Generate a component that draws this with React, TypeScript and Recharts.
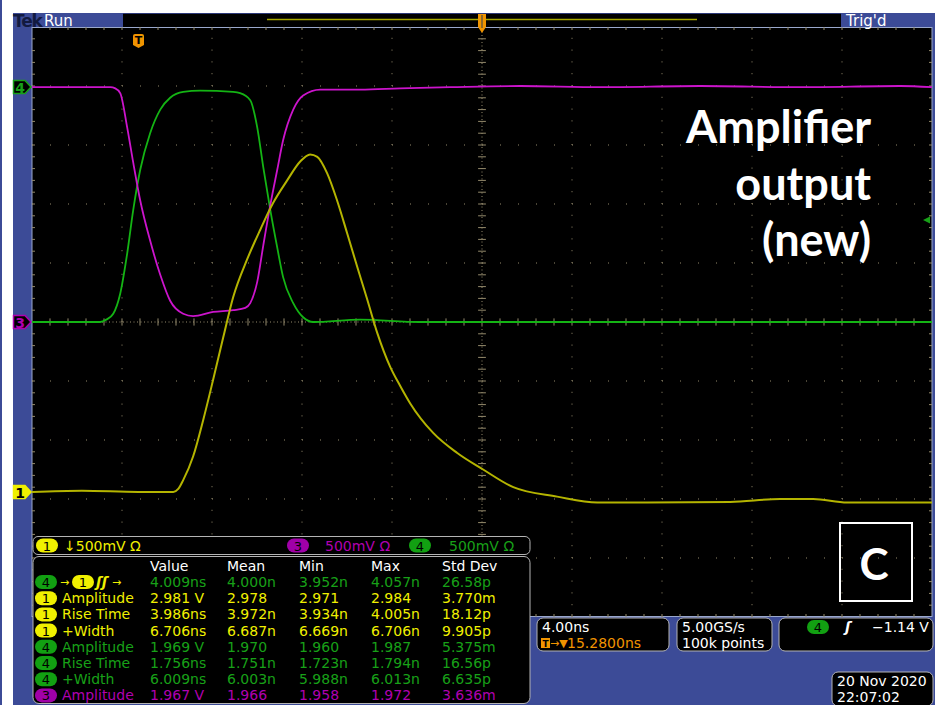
import { LineChart, Line, XAxis, YAxis, ReferenceLine } from "recharts";

// horizontal: 4 ns/div, trigger at t=0, horizontal position 15.28 ns
const T_LEFT = -4.72;
const T_RIGHT = 35.28;
const T_CENTER = 15.28;
const NS_PER_DIV = 4;
const VOLTS_PER_DIV = 0.5;

// channel ground markers, in divisions from screen centre
const CH1_OFFSET = -2.88;
const CH3_OFFSET = 0;
const CH4_OFFSET = 3.98;

// ch1 (yellow) - amplifier output
const ch1Time = [-4.72, -2.5, 0, 1.56, 1.78, 2.0, 2.44, 2.89, 3.33, 3.78, 4.22, 4.84, 5.42, 6.0, 6.62, 7.2, 7.64, 7.96, 8.4, 8.84, 9.29, 9.73, 10.18, 10.62, 11.2, 11.64, 12.09, 13.11, 14.18, 15.33, 16.67, 18.62, 20.4, 22.62, 26.31, 28.53, 30.0, 31.51, 33.56, 35.28];
const ch1Volts = [0, 0.01, 0, 0, 0.025, 0.1, 0.3, 0.61, 0.95, 1.31, 1.65, 1.97, 2.22, 2.45, 2.64, 2.8, 2.86, 2.84, 2.7, 2.47, 2.19, 1.91, 1.63, 1.35, 1.06, 0.9, 0.75, 0.5, 0.33, 0.19, 0.04, -0.04, -0.09, -0.09, -0.085, -0.06, -0.06, -0.09, -0.09, -0.09];

// ch3 (magenta)
const ch3Time = [-4.72, -1.24, -1.02, -0.8, -0.49, -0.22, 0.09, 0.53, 0.98, 1.42, 2.0, 2.44, 3.33, 4.22, 4.76, 4.98, 5.29, 5.56, 5.87, 6.18, 6.44, 6.89, 7.33, 8.09, 9.87, 11.64, 13.87, 16.98, 20.53, 24.98, 29.42, 33.87, 35.28];
const ch3Volts = [1.99, 1.99, 1.98, 1.94, 1.65, 1.35, 1.03, 0.69, 0.4, 0.18, 0.07, 0.05, 0.085, 0.1, 0.12, 0.16, 0.34, 0.65, 0.99, 1.29, 1.54, 1.8, 1.92, 1.97, 1.97, 1.98, 1.99, 2.0, 1.99, 2.0, 1.99, 2.0, 1.99];

// ch4 (green)
const ch4Time = [-4.72, -1.69, -1.42, -1.11, -0.8, -0.49, -0.22, 0.09, 0.53, 0.98, 1.42, 2.0, 2.76, 4.22, 4.53, 4.98, 5.29, 5.56, 5.87, 6.18, 6.44, 6.89, 7.33, 7.78, 9.87, 12.53, 16.09, 20.53, 24.98, 29.42, 35.28];
const ch4Volts = [-1.99, -1.99, -1.97, -1.92, -1.75, -1.41, -1.04, -0.7, -0.39, -0.19, -0.09, -0.04, -0.03, -0.04, -0.05, -0.11, -0.34, -0.68, -1.04, -1.36, -1.61, -1.83, -1.95, -1.99, -1.97, -1.99, -1.99, -1.99, -1.99, -1.99, -1.99];

// measurement table
const measHeader = ["Value", "Mean", "Min", "Max", "Std Dev"];
const measChannel = [4, 1, 1, 1, 4, 4, 4, 3];
const measLabel = ["", "Amplitude", "Rise Time", "+Width", "Amplitude", "Rise Time", "+Width", "Amplitude"];
const measValue = ["4.009ns", "2.981 V", "3.986ns", "6.706ns", "1.969 V", "1.756ns", "6.009ns", "1.967 V"];
const measMean = ["4.000n", "2.978", "3.972n", "6.687n", "1.970", "1.751n", "6.003n", "1.966"];
const measMin = ["3.952n", "2.971", "3.934n", "6.669n", "1.960", "1.723n", "5.988n", "1.958"];
const measMax = ["4.057n", "2.984", "4.005n", "6.706n", "1.987", "1.794n", "6.013n", "1.972"];
const measStd = ["26.58p", "3.770m", "18.12p", "9.905p", "5.375m", "16.56p", "6.635p", "3.636m"];

const toDiv = (v: number, offset: number) => offset + v / VOLTS_PER_DIV;
const ch1Data = ch1Time.map((t, i) => ({ t, y: toDiv(ch1Volts[i], CH1_OFFSET) }));
const ch3Data = ch3Time.map((t, i) => ({ t, y: toDiv(ch3Volts[i], CH3_OFFSET) }));
const ch4Data = ch4Time.map((t, i) => ({ t, y: toDiv(ch4Volts[i], CH4_OFFSET) }));

const majorT = Array.from({ length: 11 }, (_, i) => T_LEFT + i * NS_PER_DIV);
const minorT = Array.from({ length: 49 }, (_, i) => T_LEFT + (i + 1) * NS_PER_DIV / 5);
const majorY = Array.from({ length: 11 }, (_, i) => -5 + i);
const minorY = Array.from({ length: 49 }, (_, i) => -5 + (i + 1) * 0.2);

const BLUE = "#3c4b97";
const YEL = "#f0f000";
const GRN = "#18a018";
const MAG = "#b000b0";
const ORANGE = "#f09400";
const DOT = "#948a6c";
const FONT = "DejaVu Sans";

const chColor: Record<number, string> = { 1: YEL, 3: MAG, 4: GRN };
const pillFill: Record<number, string> = { 1: "#f0f000", 3: "#a000a8", 4: "#12a012" };

const Pill = ({ x, cy, ch }: { x: number; cy: number; ch: number }) => (
  <g>
    <rect x={x} y={cy - 7} width={22} height={14} rx={7} fill={pillFill[ch]} />
    <text x={x + 11} y={cy + 0.5} textAnchor="middle" dominantBaseline="central" fontSize={13} fontFamily={FONT} fill="#000">
      {ch}
    </text>
  </g>
);

const Marker = ({ cy, ch, filled }: { cy: number; ch: number; filled?: boolean }) => (
  <g>
    <polygon
      points={`13.5,${cy - 6.5} 25,${cy - 6.5} 31,${cy} 25,${cy + 6.5} 13.5,${cy + 6.5}`}
      fill={filled ? chColor[ch] : "#000"}
      stroke={chColor[ch]}
      strokeWidth={1.5}
    />
    <text x={20} y={cy + 0.5} textAnchor="middle" dominantBaseline="central" fontSize={14} fontWeight="bold" fontFamily={FONT} fill={filled ? "#000" : chColor[ch]}>
      {ch}
    </text>
  </g>
);

const Overlay = () => {
  const cols = [150, 227, 299, 371, 442];
  const rowY = (i: number) => 582 + i * 16.2;
  return (
    <svg width={941} height={705} style={{ position: "absolute", left: 0, top: 0 }}>
      {/* header */}
      <rect x={13} y={13} width={110} height={14} fill={BLUE} />
      <text x={13} y={20.5} dominantBaseline="central" fontSize={17} fontWeight="bold" fontFamily={FONT} fill="#121a40" letterSpacing={-1.2}>
        Tek
      </text>
      <text x={44} y={20.5} dominantBaseline="central" fontSize={15} fontFamily={FONT} fill="#fff">
        Run
      </text>
      <rect x={123} y={13} width={718} height={14} fill="#000" />
      <line x1={123} y1={13.5} x2={841} y2={13.5} stroke="#2c3878" />
      <line x1={267} y1={19.5} x2={697} y2={19.5} stroke="#a8a800" strokeWidth={1.5} />
      <rect x={841} y={13} width={94} height={14} fill={BLUE} />
      <text x={846} y={20.5} dominantBaseline="central" fontSize={15} fontFamily={FONT} fill="#fff">
        Trig'd
      </text>
      <polygon points="478,14 486,14 486,27 482,33 478,27" fill={ORANGE} />
      <line x1={482} y1={15} x2={482} y2={28} stroke="#6a5a3a" strokeWidth={1.5} />

      {/* trigger point marker */}
      <path d="M133,36 Q133,34 135,34 L142,34 Q144,34 144,36 L144,45 L138.5,48 L133,45 Z" fill={ORANGE} />
      <text x={138.5} y={40.5} textAnchor="middle" dominantBaseline="central" fontSize={11} fontWeight="bold" fontFamily={FONT} fill="#000">
        T
      </text>

      {/* channel markers */}
      <Marker cy={87} ch={4} />
      <Marker cy={322} ch={3} />
      <Marker cy={492} ch={1} filled />
      <polygon points="923,220 930,216.5 930,223.5" fill={GRN} />

      {/* annotation */}
      <g fontFamily="Lato" fontWeight="bold" fontSize={45} fill="#fff" textAnchor="end">
        <text x={871} y={143}>Amplifier</text>
        <text x={871} y={200}>output</text>
        <text x={871} y={256}>(new)</text>
      </g>
      <rect x={840} y={523} width={72} height={78} fill="none" stroke="#fff" strokeWidth={2} />
      <text x={874} y={563} textAnchor="middle" dominantBaseline="central" fontFamily="Lato" fontWeight="bold" fontSize={44} fill="#fff">
        C
      </text>

      {/* channel status bar */}
      <rect x={33} y={536.5} width={497} height={18} rx={5} fill="#000" stroke="#b4b4b4" />
      <Pill x={36} cy={545.5} ch={1} />
      <text x={64} y={546} dominantBaseline="central" fontSize={14} fontFamily={FONT} fill={YEL}>
        ↓500mV Ω
      </text>
      <Pill x={287} cy={545.5} ch={3} />
      <text x={325} y={546} dominantBaseline="central" fontSize={14} fontFamily={FONT} fill={MAG}>
        500mV Ω
      </text>
      <Pill x={409} cy={545.5} ch={4} />
      <text x={449} y={546} dominantBaseline="central" fontSize={14} fontFamily={FONT} fill={GRN}>
        500mV Ω
      </text>

      {/* measurement table */}
      <rect x={33} y={556.5} width={497} height={147} rx={6} fill="#000" stroke="#b4b4b4" />
      <g fontSize={14} fontFamily={FONT} dominantBaseline="central">
        {measHeader.map((h, i) => (
          <text key={h} x={cols[i]} y={566} fill="#fff">
            {h}
          </text>
        ))}
        {measChannel.map((ch, i) => {
          const y = rowY(i);
          const c = i === 0 ? GRN : chColor[ch];
          return (
            <g key={i}>
              <Pill x={35} cy={y} ch={ch} />
              {i === 0 ? (
                <g>
                  <text x={60} y={y} fill={YEL} fontSize={11}>
                    →
                  </text>
                  <Pill x={72} cy={y} ch={1} />
                  <text x={96} y={y} fill={YEL} fontStyle="italic" fontWeight="bold">
                    ʃʃ
                  </text>
                  <text x={112} y={y} fill={YEL} fontSize={11}>
                    →
                  </text>
                </g>
              ) : (
                <text x={62} y={y} fill={c}>
                  {measLabel[i]}
                </text>
              )}
              {[measValue, measMean, measMin, measMax, measStd].map((col, j) => (
                <text key={j} x={cols[j]} y={y} fill={c}>
                  {col[i]}
                </text>
              ))}
            </g>
          );
        })}
      </g>

      {/* horizontal / acquisition / trigger boxes */}
      <g fontSize={14} fontFamily={FONT} dominantBaseline="central">
        <rect x={537} y={618} width={132} height={33} rx={6} fill="#000" stroke="#b4b4b4" />
        <text x={542} y={627} fill="#fff">4.00ns</text>
        <rect x={541} y={638} width={9} height={10} fill={ORANGE} />
        <text x={545.5} y={643.5} textAnchor="middle" fontSize={9} fontWeight="bold" fill="#000">T</text>
        <text x={550} y={643} fill={ORANGE} fontSize={11}>→▼</text>
        <text x={567} y={643} fill={ORANGE}>15.2800ns</text>

        <rect x={677} y={618} width={95} height={33} rx={6} fill="#000" stroke="#b4b4b4" />
        <text x={682} y={627} fill="#fff">5.00GS/s</text>
        <text x={682} y={643} fill="#fff">100k points</text>

        <rect x={779} y={618} width={154} height={33} rx={6} fill="#000" stroke="#b4b4b4" />
        <Pill x={807} cy={627} ch={4} />
        <text x={845} y={627} fill="#fff" fontStyle="italic" fontWeight="bold">ʃ</text>
        <text x={872} y={627} fill="#fff">−1.14 V</text>

        <rect x={832} y={672} width={101} height={34} rx={6} fill="#000" stroke="#b4b4b4" />
        <text x={837} y={681} fill="#fff">20 Nov 2020</text>
        <text x={837} y={697} fill="#fff">22:07:02</text>
      </g>
    </svg>
  );
};

export default function App() {
  const tickX = 3 / 22.5;
  const tickY = 3 / 59;
  return (
    <div style={{ position: "absolute", left: 0, top: 0, width: 941, height: 705, background: "#fff", overflow: "hidden" }}>
      <svg width={941} height={705} style={{ position: "absolute", left: 0, top: 0 }}>
        <rect x={0} y={0} width={2} height={705} fill={BLUE} />
        <rect x={13} y={13} width={922} height={692} fill={BLUE} />
        <rect x={32} y={27} width={900} height={590} fill="#000" />
        <rect x={32} y={27.5} width={900} height={589} fill="none" stroke="#9aa8cc" />
      </svg>
      <div style={{ position: "absolute", left: 0, top: 0 }}>
        <LineChart width={941} height={705} margin={{ top: 27, right: 9, bottom: 88, left: 32 }}>
          <XAxis type="number" dataKey="t" domain={[T_LEFT, T_RIGHT]} hide allowDataOverflow />
          <YAxis type="number" dataKey="y" domain={[-5, 5]} hide allowDataOverflow />
          {majorT.slice(1, 10).filter((_, i) => i !== 4).map((t) => (
            <ReferenceLine key={`vx${t}`} x={t} stroke={DOT} strokeDasharray="1 10.8" />
          ))}
          {majorY.slice(1, 10).filter((y) => y !== 0).map((y) => (
            <ReferenceLine key={`hy${y}`} y={y} stroke={DOT} strokeDasharray="1 17" />
          ))}
          <ReferenceLine x={T_CENTER} stroke={DOT} strokeDasharray="1 2.5" />
          <ReferenceLine y={0} stroke={DOT} strokeDasharray="1 2.5" />
          {minorT.map((t) => (
            <ReferenceLine key={`ct${t}`} segment={[{ x: t, y: -tickY * 1.2 }, { x: t, y: tickY * 1.2 }]} stroke={DOT} />
          ))}
          {minorY.map((y) => (
            <ReferenceLine key={`cy${y}`} segment={[{ x: T_CENTER - tickX * 1.3, y }, { x: T_CENTER + tickX * 1.3, y }]} stroke={DOT} />
          ))}
          {minorT.map((t) => (
            <ReferenceLine key={`tt${t}`} segment={[{ x: t, y: 5 }, { x: t, y: 5 - tickY }]} stroke={DOT} />
          ))}
          {minorT.map((t) => (
            <ReferenceLine key={`bt${t}`} segment={[{ x: t, y: -5 }, { x: t, y: -5 + tickY }]} stroke={DOT} />
          ))}
          {minorY.map((y) => (
            <ReferenceLine key={`lt${y}`} segment={[{ x: T_LEFT, y }, { x: T_LEFT + tickX, y }]} stroke={DOT} />
          ))}
          {minorY.map((y) => (
            <ReferenceLine key={`rt${y}`} segment={[{ x: T_RIGHT, y }, { x: T_RIGHT - tickX, y }]} stroke={DOT} />
          ))}
          <Line data={ch4Data} dataKey="y" type="monotone" stroke="#14b414" strokeWidth={1.8} dot={false} activeDot={false} isAnimationActive={false} />
          <Line data={ch3Data} dataKey="y" type="monotone" stroke="#cc14cc" strokeWidth={1.8} dot={false} activeDot={false} isAnimationActive={false} />
          <Line data={ch1Data} dataKey="y" type="monotone" stroke="#b4b400" strokeWidth={2} dot={false} activeDot={false} isAnimationActive={false} />
        </LineChart>
      </div>
      <Overlay />
    </div>
  );
}
